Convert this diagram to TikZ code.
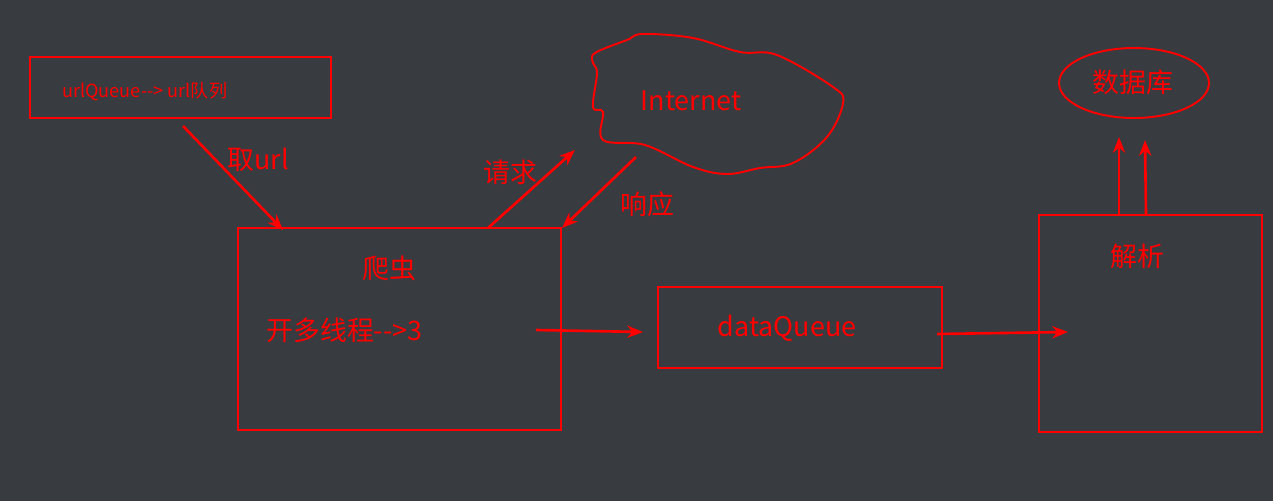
\documentclass[tikz,border=0pt]{standalone}
\usepackage{fontspec}
\setmainfont{Noto Sans CJK SC}
\usetikzlibrary{shapes.geometric,arrows.meta,calc}
\definecolor{bg}{RGB}{56,59,63}
\definecolor{rd}{RGB}{255,0,0}
\tikzset{
  box/.style={draw=rd, line width=1.1pt, inner sep=0pt, outer sep=0pt, fill=none},
  lbl/.style={text=rd, inner sep=0pt, font=\fontsize{15.3pt}{17pt}\selectfont},
  arr/.style={draw=rd, line width=1.5pt, -{Stealth[length=9pt,width=7pt]}},
}
\begin{document}
\begin{tikzpicture}[x=0.02cm, y=-0.02cm]
\fill[bg] (0,0) rectangle (1273,501);
\useasboundingbox (0,0) rectangle (1273,501);
% boxes
\node[box, minimum width=6.02cm, minimum height=1.22cm] (urlq) at (180.5,87.5) {};
\node[box, minimum width=6.46cm, minimum height=4.04cm] (spider) at (399.5,329) {};
\node[box, minimum width=5.68cm, minimum height=1.62cm] (dataq) at (800,327.5) {};
\node[box, minimum width=4.46cm, minimum height=4.34cm] (parse) at (1150.5,323.5) {};
\node[box, ellipse, minimum width=3.0cm, minimum height=1.4cm] (db) at (1134,83) {};
% cloud
\draw[rd, line width=1.1pt] plot[smooth cycle, tension=0.6] coordinates {
 (627,40) (595,53) (593,63) (597,73) (593,107) (603,112) (603,140) (645,145)
 (693,167) (727,174) (760,168) (793,163) (827,137) (843,103) (833,87)
 (777,55) (740,52) (693,38) (643,34)};
\node[lbl] (inet) at (691,101) {Internet};
% texts
\node[lbl, anchor=west, font=\fontsize{10.3pt}{12pt}\selectfont] (urlqt) at (62,92) {urlQueue-{}-> url队列};
\node[lbl] (spidert) at (389,268) {爬虫};
\node[lbl, anchor=west] (threads) at (266,330) {开多线程-{}->3};
\node[lbl] (dataqt) at (787,328) {dataQueue};
\node[lbl] (parset) at (1137,256) {解析};
\node[lbl] (dbt) at (1133,82) {数据库};
% arrow end points
\coordinate (a1s) at (183,126);
\coordinate (a1e) at (283,230);
\coordinate (a2s) at (488,228);
\coordinate (a2e) at (575,150);
\coordinate (a3s) at (636,157);
\coordinate (a3e) at (562,228);
\coordinate (a4s) at (536,330);
\coordinate (a4e) at (643,332);
\coordinate (a5s) at (937,334);
\coordinate (a5e) at (1068,332);
\coordinate (a6s) at (1119,215);
\coordinate (a6e) at (1119,137);
\coordinate (a7s) at (1146,215);
\coordinate (a7e) at (1145,140);
\draw[arr] (a1s) -- (a1e);
\draw[arr] (a2s) -- (a2e);
\draw[arr] (a3s) -- (a3e);
\draw[arr] (a4s) -- (a4e);
\draw[arr] (a5s) -- (a5e);
\draw[arr] (a6s) -- (a6e);
\draw[arr] (a7s) -- (a7e);
% arrow labels
\node[lbl] (l1) at (258,160) {取url};
\node[lbl] (l2) at (510,172) {请求};
\node[lbl] (l3) at (647,204) {响应};
\end{tikzpicture}
\end{document}
